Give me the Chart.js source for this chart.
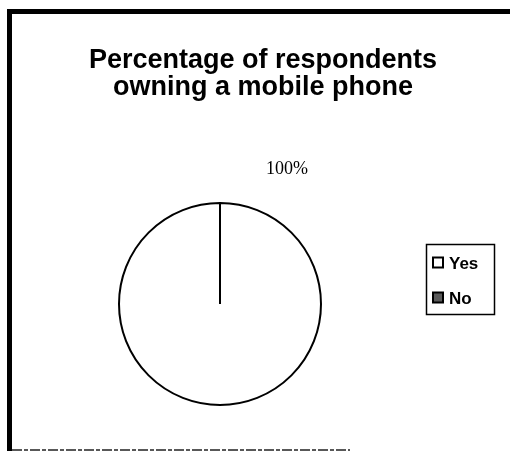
<!DOCTYPE html>
<html>
<head>
<meta charset="utf-8">
<script src="https://cdn.jsdelivr.net/npm/chart.js@4.4.1/dist/chart.umd.min.js"></script>
<style>
html,body{margin:0;padding:0;background:#fff;}
#wrap{position:relative;width:510px;height:452px;}
</style>
</head>
<body>
<div id="wrap"><canvas id="c" width="510" height="452"></canvas></div>
<script>
const titleLines = ["Percentage of respondents", "owning a mobile phone"];
const categories = ["Yes", "No"];
const values = [100, 0];
const valueLabels = ["100%"];
const sliceColors = ["#ffffff", "#5a5a5a"];

const decor = {
  id: 'decor',
  beforeDraw(chart) {
    const ctx = chart.ctx;
    ctx.save();
    ctx.fillStyle = '#fff';
    ctx.fillRect(0, 0, chart.width, chart.height);
    ctx.restore();
  },
  afterDraw(chart) {
    const ctx = chart.ctx;
    ctx.save();
    // frame
    ctx.fillStyle = '#000';
    ctx.fillRect(7, 9, 503, 5);
    ctx.fillRect(7, 9, 5, 442);
    ctx.strokeStyle = '#222';
    ctx.lineWidth = 1.5;
    ctx.setLineDash([10, 2, 4, 2]);
    ctx.beginPath();
    ctx.moveTo(12, 450);
    ctx.lineTo(350, 450);
    ctx.stroke();
    ctx.setLineDash([]);

    // title
    ctx.fillStyle = '#000';
    ctx.textAlign = 'center';
    ctx.textBaseline = 'alphabetic';
    ctx.font = 'bold 27px "Liberation Sans", Arial, sans-serif';
    ctx.fillText(titleLines[0], 263, 68);
    ctx.fillText(titleLines[1], 263, 95);

    // value label
    ctx.font = '18px "Liberation Serif", "Times New Roman", serif';
    ctx.fillText(valueLabels[0], 287, 174);

    // legend box
    ctx.lineWidth = 1.5;
    ctx.strokeStyle = '#000';
    ctx.strokeRect(426.5, 244.5, 68, 70);
    const ys = [262.5, 297.5];
    ctx.textAlign = 'left';
    ctx.font = 'bold 17px "Liberation Sans", Arial, sans-serif';
    categories.forEach((c, i) => {
      ctx.fillStyle = sliceColors[i];
      ctx.fillRect(433, ys[i] - 5, 10, 10);
      ctx.lineWidth = 2;
      ctx.strokeStyle = '#000';
      ctx.strokeRect(433, ys[i] - 5, 10, 10);
      ctx.fillStyle = '#000';
      ctx.fillText(c, 449, ys[i] + 6);
    });
    ctx.restore();
  }
};

new Chart(document.getElementById('c'), {
  type: 'pie',
  data: {
    labels: categories,
    datasets: [{
      data: values,
      backgroundColor: sliceColors,
      borderColor: '#000',
      borderWidth: 2
    }]
  },
  options: {
    responsive: false,
    animation: false,
    events: [],
    layout: { padding: { left: 118, right: 188, top: 202, bottom: 46 } },
    plugins: {
      legend: { display: false },
      title: { display: false },
      tooltip: { enabled: false }
    }
  },
  plugins: [decor]
});
</script>
</body>
</html>
